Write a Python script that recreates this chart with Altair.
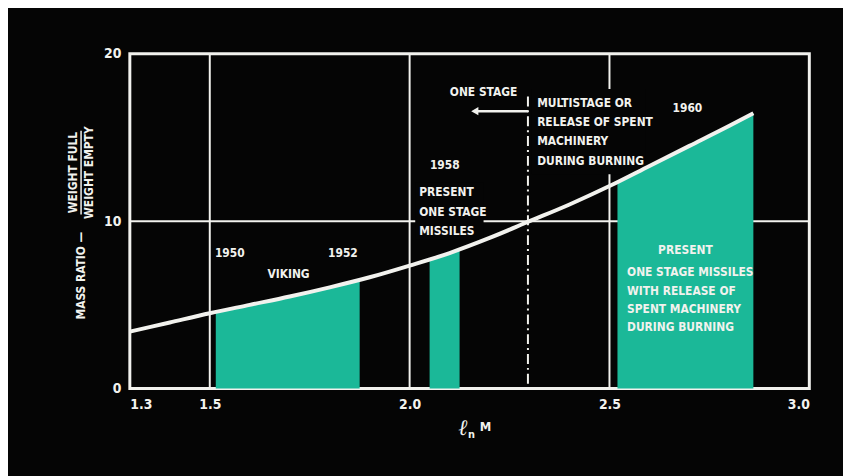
import altair as alt
import pandas as pd

# ---- data ----
curve_x = [1.3, 1.4, 1.5, 1.6, 1.7, 1.8, 1.9, 2.0, 2.1, 2.2, 2.3, 2.4, 2.5, 2.6, 2.7, 2.8, 2.86]
curve_y = [3.4, 3.95, 4.5, 5.0, 5.5, 6.05, 6.65, 7.35, 8.1, 9.0, 10.0, 11.0, 12.1, 13.3, 14.5, 15.7, 16.45]

viking_x = [1.515, 1.6, 1.7, 1.8, 1.875]
viking_y = [4.55, 5.0, 5.5, 6.05, 6.5]
y1958_x = [2.05, 2.125]
y1958_y = [7.7, 8.3]
y1960_x = [2.52, 2.6, 2.7, 2.8, 2.86]
y1960_y = [12.35, 13.3, 14.5, 15.7, 16.45]

x_ticks = [1.3, 1.5, 2.0, 2.5, 3.0]
y_ticks = [0, 10, 20]
grid_x = [1.5, 2.0, 2.5]
grid_y = [10]
stage_limit = 2.296  # ln M where mass ratio = 10

FONT = "'DejaVu Sans Condensed', sans-serif"
WHITE = "#f2f2ee"
TEAL = "#1bb898"
FS = 12

X = alt.X("x:Q", scale=alt.Scale(domain=[1.3, 3.0], nice=False, zero=False),
          axis=alt.Axis(values=x_ticks, format=".1f", title=None, grid=False, ticks=False,
                        domain=False, labelColor=WHITE, labelFont=FONT, labelFontSize=14,
                        labelFontWeight="bold", labelPadding=9))
Y = alt.Y("y:Q", scale=alt.Scale(domain=[0, 20], nice=False),
          axis=alt.Axis(values=y_ticks, title=None, grid=False, ticks=False, domain=False,
                        labelColor=WHITE, labelFont=FONT, labelFontSize=14,
                        labelFontWeight="bold", labelPadding=9))

# grid lines
gx = alt.Chart(pd.DataFrame({"x": grid_x})).mark_rule(color=WHITE, strokeWidth=2).encode(x=X)
gy = alt.Chart(pd.DataFrame({"y": grid_y})).mark_rule(color=WHITE, strokeWidth=2).encode(y=Y)

# black backgrounds behind text blocks (break the grid lines)
bg = pd.DataFrame({"x": [2.014, 2.306], "x2": [2.185, 2.591],
                   "y": [12.3, 17.9], "y2": [8.9, 12.8]})
bgr = alt.Chart(bg).mark_rect(color="#050505").encode(x=X, x2="x2:Q", y=Y, y2="y2:Q")

def area(xs, ys):
    return alt.Chart(pd.DataFrame({"x": xs, "y": ys})).mark_area(
        color=TEAL, opacity=1, interpolate="monotone").encode(x=X, y=Y)

a1 = area(viking_x, viking_y)
a2 = area(y1958_x, y1958_y)
a3 = area(y1960_x, y1960_y)

curve = alt.Chart(pd.DataFrame({"x": curve_x, "y": curve_y})).mark_line(
    color=WHITE, strokeWidth=4, interpolate="monotone").encode(x=X, y=Y)

# dash-dot divider
div = alt.Chart(pd.DataFrame({"x": [stage_limit], "y": [17.45], "y2": [0]})).mark_rule(
    color=WHITE, strokeWidth=2, strokeDash=[10, 4, 2, 4]).encode(x=X, y=Y, y2="y2:Q")

# arrow
arr = alt.Chart(pd.DataFrame({"x": [2.17], "x2": [stage_limit], "y": [16.57]})).mark_rule(
    color=WHITE, strokeWidth=2.5).encode(x=X, x2="x2:Q", y=Y)
head = alt.Chart(pd.DataFrame({"x": [2.163], "y": [16.57]})).mark_point(
    shape="triangle-left", filled=True, color=WHITE, size=70, opacity=1).encode(x=X, y=Y)

# annotations
left_txt = pd.DataFrame({
    "x": [2.319, 2.319, 2.319, 2.319, 2.024, 2.024, 2.024, 2.544, 2.544, 2.544, 2.544],
    "y": [17.04, 15.92, 14.79, 13.61, 11.72, 10.53, 9.41, 6.98, 5.80, 4.73, 3.67],
    "t": ["MULTISTAGE OR", "RELEASE OF SPENT", "MACHINERY", "DURING BURNING",
          "PRESENT", "ONE STAGE", "MISSILES",
          "ONE STAGE MISSILES", "WITH RELEASE OF", "SPENT MACHINERY", "DURING BURNING"],
})
ctr_txt = pd.DataFrame({
    "x": [2.185, 2.695, 2.088, 1.550, 1.833, 1.697, 2.690],
    "y": [17.69, 16.75, 13.37, 8.11, 8.11, 6.86, 8.28],
    "t": ["ONE STAGE", "1960", "1958", "1950", "1952", "VIKING", "PRESENT"],
})
tl = alt.Chart(left_txt).mark_text(align="left", baseline="middle", font=FONT, fontSize=FS,
                                   fontWeight="bold", color=WHITE).encode(x=X, y=Y, text="t:N")
tc = alt.Chart(ctr_txt).mark_text(align="center", baseline="middle", font=FONT, fontSize=FS,
                                  fontWeight="bold", color=WHITE).encode(x=X, y=Y, text="t:N")

# y axis title (rotated fraction)
ytit = pd.DataFrame({"x": [1.158, 1.199, 1.179], "y": [12.9, 12.9, 6.75],
                     "t": ["WEIGHT FULL", "WEIGHT EMPTY", "MASS RATIO \u2014"]})
yt = alt.Chart(ytit).mark_text(align="center", baseline="middle", angle=270, font=FONT,
                               fontSize=FS, fontWeight="bold", color=WHITE).encode(x=X, y=Y, text="t:N")
frac = alt.Chart(pd.DataFrame({"x": [1.178], "y": [15.4], "y2": [10.4]})).mark_rule(
    color=WHITE, strokeWidth=1.5).encode(x=X, y=Y, y2="y2:Q")

# x axis title  l_n M
xt1 = alt.Chart(pd.DataFrame({"x": [2.133], "y": [-2.37], "t": ["\u2113"]})).mark_text(
    font="'DejaVu Serif', serif", fontSize=22, fontStyle="italic", color=WHITE,
    baseline="middle").encode(x=X, y=Y, text="t:N")
xt2 = alt.Chart(pd.DataFrame({"x": [2.155], "y": [-2.8], "t": ["n"]})).mark_text(
    font=FONT, fontSize=11, fontWeight="bold", color=WHITE,
    baseline="middle").encode(x=X, y=Y, text="t:N")
xt3 = alt.Chart(pd.DataFrame({"x": [2.19], "y": [-2.3], "t": ["M"]})).mark_text(
    font=FONT, fontSize=13, fontWeight="bold", color=WHITE,
    baseline="middle").encode(x=X, y=Y, text="t:N")

chart = alt.layer(gx, gy, bgr, a1, a2, a3, curve, div, arr, head, tl, tc, yt, frac, xt1, xt2, xt3).properties(
    width=686, height=338,
    autosize=alt.AutoSizeParams(type="none"),
    padding={"left": 123, "top": 44, "right": 34, "bottom": 86},
    background="#050505",
).configure_view(stroke=WHITE, strokeWidth=3)

chart.save("out.html", embed_options={"renderer": "svg", "actions": False})
